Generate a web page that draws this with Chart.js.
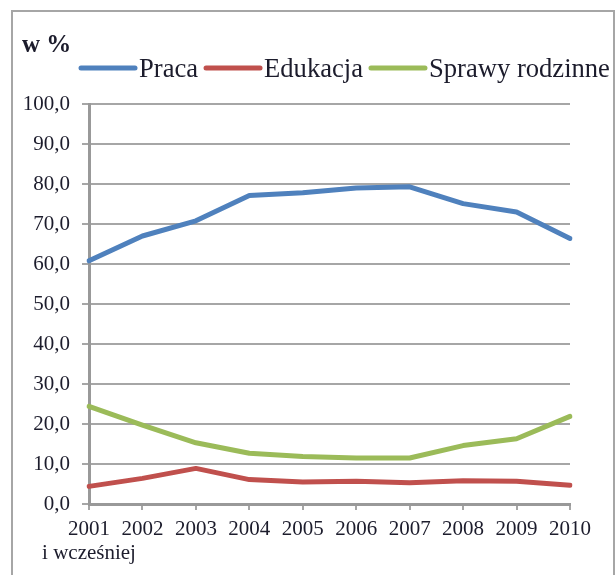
<!DOCTYPE html>
<html>
<head>
<meta charset="utf-8">
<script src="https://cdn.jsdelivr.net/npm/chart.js@4.4.1/dist/chart.umd.min.js"></script>
<style>
  html, body { margin: 0; padding: 0; background: #ffffff; overflow: hidden; }
  #wrap { position: relative; width: 616px; height: 575px; }
</style>
</head>
<body>
<div id="wrap"><canvas id="c"></canvas></div>
<script>
// ---- data ----
const years = ['2001', '2002', '2003', '2004', '2005', '2006', '2007', '2008', '2009', '2010'];
const firstYearNote = 'i wcześniej';
const seriesNames = ['Praca', 'Edukacja', 'Sprawy rodzinne'];
const praca = [60.8, 67.0, 70.8, 77.1, 77.8, 79.0, 79.3, 75.1, 73.0, 66.4];
const edukacja = [4.4, 6.4, 8.9, 6.1, 5.5, 5.7, 5.3, 5.8, 5.7, 4.7];
const sprawyRodzinne = [24.4, 19.7, 15.3, 12.7, 11.9, 11.5, 11.5, 14.6, 16.3, 21.9];
const yMin = 0, yMax = 100, yStep = 10;
const unitTitle = 'w %';

// ---- style ----
const colors = ['#4f81bd', '#c0504d', '#9bbb59'];
const textColor = '#1c1c2c';
const gridColor = '#a6a6a6';
const serif = '"Liberation Serif", "Times New Roman", serif';

const labels = years.map((y, i) => i === 0 ? [y, firstYearNote] : y);

const decorPlugin = {
  id: 'decor',
  beforeDraw(chart) {
    const ctx = chart.ctx;
    ctx.save();
    ctx.strokeStyle = gridColor;
    ctx.lineWidth = 2;
    ctx.strokeRect(12, 11, 602, 620);
    ctx.restore();
  },
  afterDraw(chart) {
    const ctx = chart.ctx;
    ctx.save();
    // unit title
    ctx.fillStyle = textColor;
    ctx.font = 'bold 25px ' + serif;
    ctx.textAlign = 'left';
    ctx.textBaseline = 'alphabetic';
    ctx.fillText(unitTitle, 22, 52);
    // legend
    ctx.font = '26.6px ' + serif;
    let x = 81;
    const ly = 68;
    chart.data.datasets.forEach((ds, i) => {
      ctx.strokeStyle = ds.borderColor;
      ctx.lineWidth = 5;
      ctx.lineCap = 'round';
      ctx.beginPath();
      ctx.moveTo(x, ly);
      ctx.lineTo(x + 54, ly);
      ctx.stroke();
      x += 58;
      ctx.fillStyle = textColor;
      ctx.fillText(ds.label, x, 77);
      x += ctx.measureText(ds.label).width + 8;
    });
    ctx.restore();
  }
};

new Chart(document.getElementById('c'), {
  type: 'line',
  data: {
    labels: labels,
    datasets: [
      { label: seriesNames[0], data: praca, borderColor: colors[0], backgroundColor: colors[0] },
      { label: seriesNames[1], data: edukacja, borderColor: colors[1], backgroundColor: colors[1] },
      { label: seriesNames[2], data: sprawyRodzinne, borderColor: colors[2], backgroundColor: colors[2] }
    ]
  },
  options: {
    responsive: true,
    maintainAspectRatio: false,
    animation: false,
    devicePixelRatio: 1,
    layout: { padding: { left: 0, top: 104, right: 46, bottom: 0 } },
    elements: {
      line: { borderWidth: 5, tension: 0, borderJoinStyle: 'round', borderCapStyle: 'round', fill: false },
      point: { radius: 0, hoverRadius: 0 }
    },
    plugins: {
      legend: { display: false },
      title: { display: false },
      tooltip: { enabled: false }
    },
    scales: {
      x: {
        type: 'category',
        offset: false,
        afterFit(scale) { scale.height = 71; },
        grid: { drawOnChartArea: false, drawTicks: true, tickLength: 6, color: gridColor, lineWidth: 2 },
        border: { display: true, color: '#999999', width: 3 },
        ticks: {
          autoSkip: false, maxRotation: 0, minRotation: 0, padding: 7,
          color: textColor,
          font: { family: serif, size: 21, lineHeight: 1.15 }
        }
      },
      y: {
        min: yMin, max: yMax,
        afterFit(scale) { scale.width = 89; },
        grid: { color: gridColor, lineWidth: 2, drawTicks: true, tickLength: 7 },
        border: { display: true, color: '#999999', width: 3 },
        ticks: {
          stepSize: yStep,
          padding: 12,
          color: textColor,
          font: { family: serif, size: 21 },
          callback: (v) => Number(v).toFixed(1).replace('.', ',')
        }
      }
    }
  },
  plugins: [decorPlugin]
});
</script>
</body>
</html>
